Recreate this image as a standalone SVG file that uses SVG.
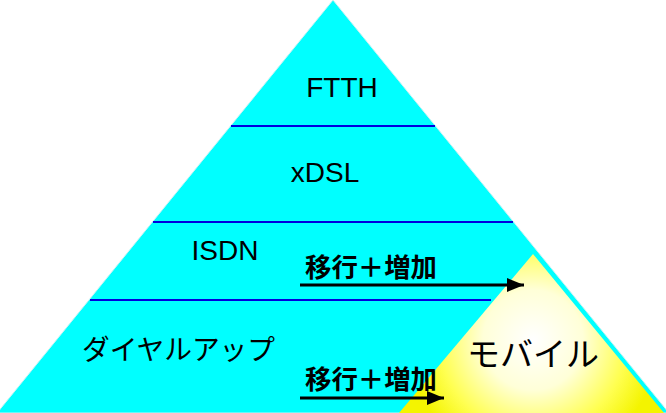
<svg xmlns="http://www.w3.org/2000/svg" width="666" height="413" viewBox="0 0 666 413">
<defs>
<radialGradient id="yg" cx="533" cy="340" r="125" gradientUnits="userSpaceOnUse">
<stop offset="0" stop-color="#ffffff"/>
<stop offset="0.4" stop-color="#ffffd8"/>
<stop offset="0.75" stop-color="#ffff50"/>
<stop offset="1" stop-color="#f4f400"/>
</radialGradient>
<marker id="ah" viewBox="0 0 17 14" refX="17" refY="7" markerWidth="17" markerHeight="14" markerUnits="userSpaceOnUse" orient="auto">
<path d="M0,0 L17,7 L0,14 Z" fill="#000"/>
</marker>
</defs>
<style>
.lat{font-family:"Liberation Sans",Arial,sans-serif;font-size:28px;fill:#000}
.jp{font-family:"Noto Sans CJK JP","Noto Sans CJK SC",sans-serif;fill:#000}
.sep{stroke:#0000dd;stroke-width:2}
.arr{stroke:#000;stroke-width:3;fill:none}
</style>
<rect width="666" height="413" fill="#ffffff"/>
<g id="pyramid">
<polygon points="333,0 -3,413 669,413" fill="#00ffff" stroke="#c8f4f4" stroke-width="1"/>
</g>
<g id="separators">
<line class="sep" x1="231" y1="126" x2="435" y2="126"/>
<line class="sep" x1="153" y1="222" x2="513" y2="222"/>
<line class="sep" x1="90" y1="300" x2="491" y2="300"/>
</g>
<g id="mobile">
<polygon points="533,254 399,413 664,413" fill="url(#yg)"/>
<text class="jp" x="533" y="366" font-size="33" text-anchor="middle">モバイル</text>
</g>
<g id="ftth"><text class="lat" x="342" y="97" text-anchor="middle">FTTH</text></g>
<g id="xdsl"><text class="lat" x="325" y="182" text-anchor="middle">xDSL</text></g>
<g id="isdn"><text class="lat" x="225" y="260" text-anchor="middle">ISDN</text></g>
<g id="dialup"><text class="jp" x="82" y="360" font-size="28" textLength="193" lengthAdjust="spacingAndGlyphs">ダイヤルアップ</text></g>
<g id="connectors">
<line class="arr" x1="300" y1="285" x2="524" y2="285" marker-end="url(#ah)"/>
<line class="arr" x1="300" y1="398" x2="444" y2="398" marker-end="url(#ah)"/>
</g>
<g id="labels">
<text class="jp" x="305" y="277" font-size="26" font-weight="bold" textLength="132" lengthAdjust="spacingAndGlyphs">移行＋増加</text>
<text class="jp" x="305" y="389" font-size="26" font-weight="bold" textLength="132" lengthAdjust="spacingAndGlyphs">移行＋増加</text>
</g>
</svg>
